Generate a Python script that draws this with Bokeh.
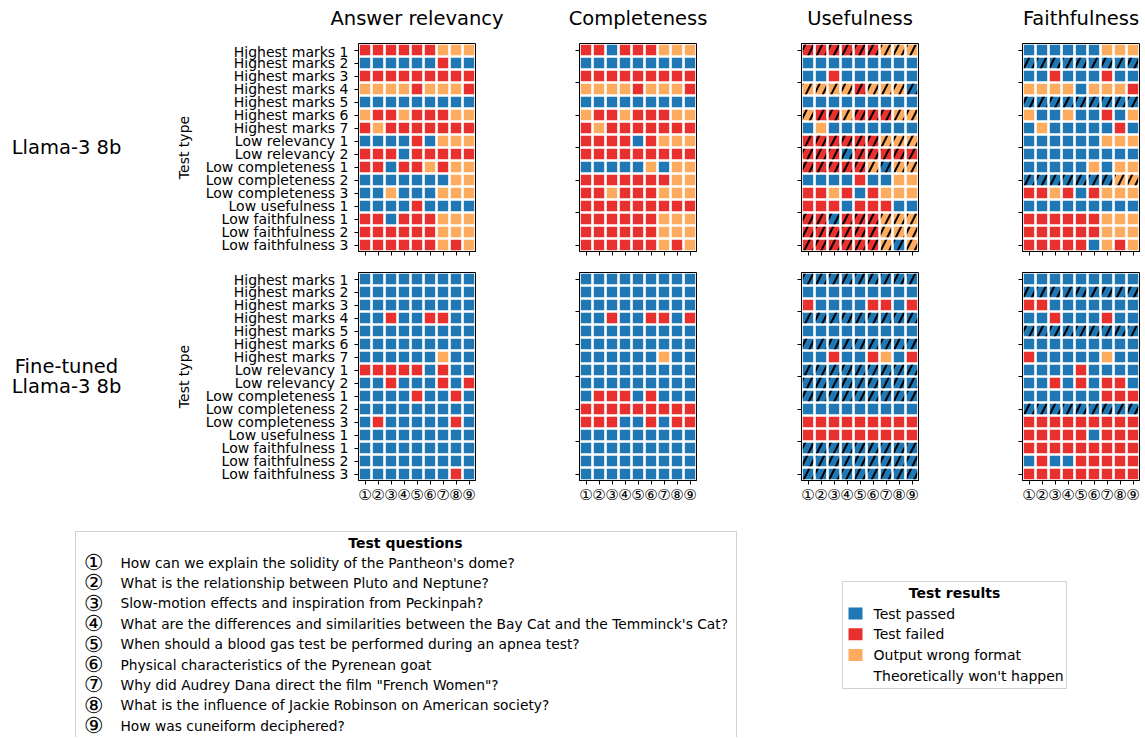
from bokeh.plotting import figure
from bokeh.layouts import column, row
from bokeh.models import Range1d, FixedTicker, ColumnDataSource
from bokeh.embed import file_html
from bokeh.resources import INLINE
from bokeh.core.properties import value

FONT = "DejaVu Sans"

# ---------------- data ----------------
test_types = [
    "Highest marks 1", "Highest marks 2", "Highest marks 3", "Highest marks 4",
    "Highest marks 5", "Highest marks 6", "Highest marks 7",
    "Low relevancy 1", "Low relevancy 2",
    "Low completeness 1", "Low completeness 2", "Low completeness 3",
    "Low usefulness 1",
    "Low faithfulness 1", "Low faithfulness 2", "Low faithfulness 3",
]
question_marks = ["①", "②", "③", "④", "⑤", "⑥", "⑦", "⑧", "⑨"]
questions = [
    "How can we explain the solidity of the Pantheon's dome?",
    "What is the relationship between Pluto and Neptune?",
    "Slow-motion effects and inspiration from Peckinpah?",
    "What are the differences and similarities between the Bay Cat and the Temminck's Cat?",
    "When should a blood gas test be performed during an apnea test?",
    "Physical characteristics of the Pyrenean goat",
    "Why did Audrey Dana direct the film \"French Women\"?",
    "What is the influence of Jackie Robinson on American society?",
    "How was cuneiform deciphered?",
]
metrics = ["Answer relevancy", "Completeness", "Usefulness", "Faithfulness"]
models = ["Llama-3 8b", "Fine-tuned\nLlama-3 8b"]

status_codes = ["P", "F", "W", "N"]
status_labels = ["Test passed", "Test failed", "Output wrong format", "Theoretically won't happen"]
status_colors = ["#1f77b4", "#e8302f", "#fdab5e", "#ffffff"]

# one string per test type, one letter per question: P passed, F failed, W wrong format
llama_relevancy = [
    "FFFFFFWWW", "PPPPPPFPP", "FFFFFFFFF", "WWWWFWWWF", "PPPPPPPPP", "WFFWFFFWW",
    "FWFFFFFFF", "PPPPFPWWW", "FFFPFFFFF", "FFPFFWFWW", "PPPPPPPWW", "PPWPPPWWW",
    "PPPPFPPPP", "FFPFFFWWW", "FFFFFFWWW", "FFFFFFWFW",
]
llama_completeness = [
    "FFPFFFWWW", "PPPPPPPPP", "FFFFFFFFF", "WWWWFWWWF", "PPPPPPPPP", "WFFWFFFWW",
    "FWFFFFFFF", "FFFFPFWWW", "FFFFFFFFF", "PPPPPWPWW", "FFFFFFFWW", "FFWFFFWWW",
    "FFFFFFFFF", "FFFFFFWWW", "FFFFFFWWW", "FFFFFFWFW",
]
llama_usefulness = [
    "FFFFFFWWW", "PPPPPPPPP", "PPFPPPPPP", "WWWWFWWWP", "PPPPPPPPP", "WFFWFFFWW",
    "PWPPPPPPP", "FFFFFFWWW", "FFFPFFFFF", "FFFFFWPWW", "PPPPFPPWW", "FFWFPFWWW",
    "FFFPFFFPP", "FFPFFFWWW", "FFFFFFWWW", "FFFFFFWPW",
]
llama_faithfulness = [
    "PPPPPPWWW", "PPPPPPPPP", "PPFPPPFPP", "WWWWPWWWF", "PPPPPPPPP", "WPPWPPFPW",
    "PWPPPPPFP", "PPPPPPWWW", "PPPPPPPPP", "PPPPPWPWW", "PPPPPPPWW", "FFWFPFWWW",
    "PPPPPPPPP", "FFFFFFWWW", "FFFFFFWWW", "FFFFFPWFW",
]
tuned_relevancy = [
    "PPPPPPPPP", "PPPPPPPPP", "PPPPPPPPP", "PPFPPFFPP", "PPPPPPPPP", "PPPPPPPPP",
    "PPPPPPWPP", "FFFFFPFPP", "PPFPPPFPF", "PPPPFPPFP", "PPPPPPPPP", "PFPPPPPFP",
    "PPPPPPPPP", "PPPPPPPPP", "PPPPPPPPP", "PPPPPPPFP",
]
tuned_completeness = [
    "PPPPPPPPP", "PPPPPPPPP", "PPPPPPPPP", "PPFPPFFPF", "PPPPPPPPP", "PPPPPPPPP",
    "PPPPPPWPP", "PPPPPPPPP", "PPPPPPPPP", "PFFFPFPPP", "FFFFFFFFF", "FFFPPFPFF",
    "PPPPPPPPP", "PPPPPPPPP", "PPPPPPPPP", "PPPPPPPPP",
]
tuned_usefulness = [
    "PPPPPPPPP", "PPPPPPPPP", "FPPPPFFPF", "PPPPPPPPP", "PPPPPPPPP", "PPPPPPPPP",
    "PPFPPFWPF", "PPPPPPPPP", "PPPPPPPPP", "PPPPPPPPP", "PPPPPPPPP", "FFFFFFFFF",
    "FFFFFFFFF", "PPPPPPPPP", "PPPPPPPPP", "PPPPPPPPP",
]
tuned_faithfulness = [
    "PPPPPPPPP", "PPPPPPPPP", "FFPPPPPPP", "PPFPPPFPP", "PPPPPPPPP", "PPPPPPPPP",
    "FPPPPPWPP", "PPPPFPPPP", "PPFPFPFFP", "PPPPPPFFF", "PPPPPPPPP", "FFFFFFFFF",
    "FFFFFPFFF", "FFFFFFFFF", "PFPPFFFFF", "FFFFFFFFF",
]

# test types (row indices) for which a metric result "theoretically won't happen"
hatched_relevancy = []
hatched_completeness = []
hatched_usefulness = [0, 3, 5, 7, 8, 9, 13, 14, 15]
hatched_faithfulness = [1, 4, 10]

results = [
    [llama_relevancy, llama_completeness, llama_usefulness, llama_faithfulness],
    [tuned_relevancy, tuned_completeness, tuned_usefulness, tuned_faithfulness],
]
hatched = [hatched_relevancy, hatched_completeness, hatched_usefulness, hatched_faithfulness]

color_of = dict(zip(status_codes, status_colors))

# ---------------- layout geometry (pixels) ----------------
FRAME_W, FRAME_H = 117, 208
LABEL_W = 140
TITLE_H = 43
LEFT_B = [218, 59, 60, 59]
RIGHT_B = [45, 45, 45, 4]
TOP_B = [0, 1]
BOT_B = [20, 40]
TOTAL_W = LABEL_W + sum(LEFT_B) + 4 * FRAME_W + sum(RIGHT_B)
ROWS_H = sum(TOP_B) + sum(BOT_B) + 2 * FRAME_H
LEG_H = 217


def make_panel(codes, hatch_rows, col, r):
    top = r == 0
    p = figure(
        width=LEFT_B[col] + FRAME_W + RIGHT_B[col], height=TOP_B[r] + FRAME_H + BOT_B[r],
        x_range=Range1d(-0.5, 8.5), y_range=Range1d(15.5, -0.5),
        output_backend="svg", toolbar_location=None,
        min_border_left=LEFT_B[col], min_border_right=RIGHT_B[col],
        min_border_top=TOP_B[r], min_border_bottom=BOT_B[r],
    )
    p.grid.visible = False
    p.outline_line_color = "black"
    p.outline_line_width = 1
    p.outline_line_alpha = 1

    xs, ys, cols, hx, hy = [], [], [], [], []
    for i, line in enumerate(codes):
        for j, c in enumerate(line):
            xs.append(j)
            ys.append(i)
            cols.append(color_of[c])
            if i in hatch_rows:
                hx.append(j)
                hy.append(i)
    src = ColumnDataSource(dict(x=xs, y=ys, color=cols))
    p.rect(x="x", y="y", width=0.8, height=0.8, fill_color="color", line_color=None, source=src)
    if hx:
        hsrc = ColumnDataSource(dict(x=hx, y=hy))
        p.rect(x="x", y="y", width=0.8, height=0.8, fill_alpha=0, line_color=None,
               hatch_pattern="/", hatch_color="black", hatch_weight=2, hatch_scale=17,
               source=hsrc)

    for ax in (p.xaxis[0], p.yaxis[0]):
        ax.axis_line_color = "black"
        ax.major_tick_line_color = "black"
        ax.major_tick_out = 4
        ax.major_tick_in = 0
        ax.minor_tick_line_color = None
        ax.major_label_text_font = FONT
        ax.major_label_text_color = "black"

    xa = p.xaxis[0]
    xa.ticker = FixedTicker(ticks=list(range(9)))
    if top:
        xa.major_label_text_font_size = "8px"
        xa.major_label_text_color = None
        xa.major_label_standoff = 0
    else:
        xa.major_label_overrides = {j: question_marks[j] for j in range(9)}
        xa.major_label_text_font_size = "15px"
        xa.major_label_standoff = 1

    ya = p.yaxis[0]
    if col == 0:
        ya.ticker = FixedTicker(ticks=list(range(16)))
        ya.major_label_overrides = {i: test_types[i] for i in range(16)}
        ya.major_label_text_font_size = "14px"
        ya.major_label_standoff = 6
        ya.axis_label = "Test type"
        ya.axis_label_text_font = FONT
        ya.axis_label_text_font_size = "14px"
        ya.axis_label_text_font_style = "normal"
        ya.axis_label_text_color = "black"
        ya.axis_label_standoff = 11
    else:
        ya.ticker = FixedTicker(ticks=[0, 2.5, 5, 7.5, 10, 12.5, 15])
        ya.major_label_text_font_size = "8px"
        ya.major_label_text_color = None
        ya.major_label_standoff = 0
    return p


def blank_fig(w, h, xr, yr):
    f = figure(width=w, height=h, x_range=xr, y_range=yr,
               output_backend="svg", toolbar_location=None,
               x_axis_location=None, y_axis_location=None, min_border=0)
    f.grid.visible = False
    f.outline_line_color = None
    return f


# column titles
tfig = blank_fig(TOTAL_W, TITLE_H, Range1d(0, TOTAL_W), Range1d(TITLE_H, 0))
tx = []
xpos = LABEL_W
for c in range(4):
    tx.append(xpos + LEFT_B[c] + FRAME_W / 2)
    xpos += LEFT_B[c] + FRAME_W + RIGHT_B[c]
tfig.text(x=tx, y=[18] * 4, text=metrics, text_align="center", text_baseline="middle",
          text_font=value(FONT), text_font_size="19.5px", text_color="black")

# row labels (one figure spanning both panel rows)
lab = blank_fig(LABEL_W, ROWS_H, Range1d(0, LABEL_W), Range1d(ROWS_H, 0))
lx, ly, lt = [], [], []
row_top = 0
for r in range(2):
    center = row_top + TOP_B[r] + FRAME_H / 2
    lines = models[r].split("\n")
    for k, t in enumerate(lines):
        lx.append(66)
        ly.append(center + (k - (len(lines) - 1) / 2) * 20)
        lt.append(t)
    row_top += TOP_B[r] + FRAME_H + BOT_B[r]
lab.text(x=lx, y=ly, text=lt, text_align="center", text_baseline="middle",
         text_font=value(FONT), text_font_size="19.5px", text_color="black")

panel_rows = []
for r in range(2):
    panel_rows.append(row(*[make_panel(results[r][c], hatched[c], c, r) for c in range(4)]))

# ---------------- legends ----------------
y0 = TITLE_H + ROWS_H
leg = blank_fig(TOTAL_W, LEG_H, Range1d(0, TOTAL_W), Range1d(y0 + LEG_H, y0))

# Test questions box
leg.quad(left=[75], right=[736], top=[531], bottom=[737], fill_color="white",
         line_color="#d0d0d0", line_width=1)
leg.text(x=[405], y=[542], text=["Test questions"], text_align="center", text_baseline="middle",
         text_font=value(FONT), text_font_size="14px", text_font_style="bold", text_color="black")
qy = [562 + 20.4 * i for i in range(len(questions))]
leg.text(x=[93] * len(questions), y=qy, text=question_marks, text_align="center",
         text_baseline="middle", text_font=value(FONT), text_font_size="22px", text_color="black")
leg.text(x=[120] * len(questions), y=qy, text=questions, text_align="left",
         text_baseline="middle", text_font=value(FONT), text_font_size="13.8px", text_color="black")

# Test results box
leg.quad(left=[842], right=[1066], top=[581], bottom=[688], fill_color="white",
         line_color="#d0d0d0", line_width=1)
leg.text(x=[954], y=[592], text=["Test results"], text_align="center", text_baseline="middle",
         text_font=value(FONT), text_font_size="14px", text_font_style="bold", text_color="black")
ry = [613 + 20.7 * i for i in range(len(status_labels))]
leg.rect(x=[855] * 3, y=ry[:3], width=14, height=12, fill_color=status_colors[:3], line_color=None)
leg.text(x=[873] * len(status_labels), y=ry, text=status_labels, text_align="left",
         text_baseline="middle", text_font=value(FONT), text_font_size="14px", text_color="black")

layout = column(tfig, row(lab, column(*panel_rows)), leg)
open("out.html", "w").write(file_html(layout, INLINE, title="Test results"))
